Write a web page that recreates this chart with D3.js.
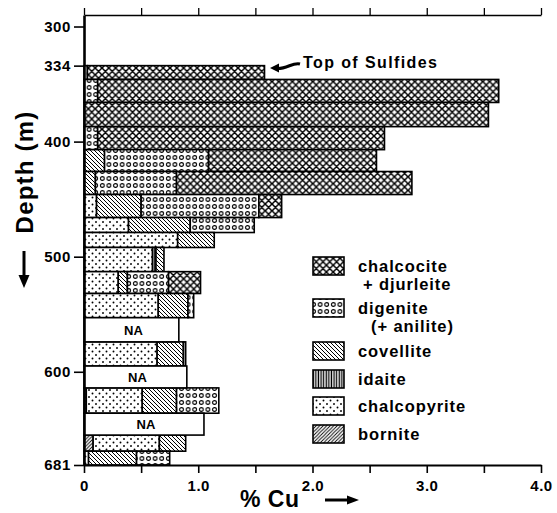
<!DOCTYPE html>
<html><head><meta charset="utf-8">
<script src="https://cdn.jsdelivr.net/npm/d3@7"></script>
<style>
html,body{margin:0;padding:0;background:#fff;}
svg{display:block;font-family:"Liberation Sans",Arial,Helvetica,sans-serif;font-weight:bold;}
</style></head><body>
<svg id="c" width="557" height="513"></svg>
<script>
// ---- data ----
const depthTop    = [334,346,366,387,407,426,446,466,479,492,513,532,553,574,595,614,636,655,669];
const depthBottom = [346,366,387,407,426,446,466,479,492,513,532,553,574,595,614,636,655,669,681];
const bornite      = [0,0,0,0,0,0,0,0,0,0,0,0,0,0,0,0.02,0,0.08,0];
const chalcopyrite = [0,0,0,0,0,0,0.11,0.39,0.82,0.60,0.30,0.65,0,0.64,0,0.49,0,0.58,0.04];
const idaite       = [0,0,0,0,0,0,0,0,0,0.03,0,0,0,0.02,0,0,0,0,0];
const covellite    = [0,0,0,0,0.18,0.10,0.39,0.54,0.32,0.07,0.08,0.26,0,0.23,0,0.30,0,0.23,0.42];
const digenite     = [0.03,0.12,0,0.12,0.91,0.71,1.03,0.56,0,0,0.36,0.05,0,0,0,0.37,0,0,0.29];
const chalcocite   = [1.55,3.51,3.54,2.51,1.47,2.06,0.20,0,0,0,0.28,0,0,0,0,0,0,0,0];
const notAnalyzed  = [0,0,0,0,0,0,0,0,0,0,0,0,0.83,0,0.90,0,1.05,0,0];
const depthTicks = [300,334,400,500,600,681];
const cuTicks = [0,0.5,1,1.5,2,2.5,3,3.5,4];
const cuTickLabels = ["0","","1.0","","2.0","","3.0","","4.0"];
const stackOrder = ["bornite","chalcopyrite","idaite","covellite","digenite","chalcocite"];
const idaiteLastRows = [13];
const legendKeys = ["chalcocite","digenite","covellite","idaite","chalcopyrite","bornite"];
const legendLabels = [["chalcocite","+ djurleite"],["digenite","(+ anilite)"],["covellite"],["idaite"],["chalcopyrite"],["bornite"]];

const series = {bornite, chalcopyrite, idaite, covellite, digenite, chalcocite};

(function(){
// ---- setup ----
const svg = d3.select("#c");
const x = d3.scaleLinear().domain([0,4]).range([84,541]);
const y = d3.scaleLinear().domain([290,681]).range([15,465]);

const defs = svg.append("defs");
function pat(id,w,h,draw){
  const p = defs.append("pattern").attr("id",id).attr("patternUnits","userSpaceOnUse")
    .attr("width",w).attr("height",h);
  p.append("rect").attr("width",w).attr("height",h).attr("fill","#fff");
  draw(p);
}
pat("p-chalcocite",6.8,6.8,p=>p.append("path")
  .attr("d","M0,0L6.8,6.8M6.8,0L0,6.8M-1,5.8L1,7.8M5.8,-1L7.8,1M-1,1L1,-1M5.8,7.8L7.8,5.8")
  .attr("stroke","#000").attr("stroke-width",1.5));
pat("p-digenite",6.6,7,p=>p.append("circle").attr("cx",3.3).attr("cy",3.5).attr("r",1.9)
  .attr("fill","none").attr("stroke","#000").attr("stroke-width",1.1));
pat("p-chalcopyrite",7,7,p=>{
  p.append("circle").attr("cx",1.5).attr("cy",1.5).attr("r",0.95).attr("fill","#000");
  p.append("circle").attr("cx",5).attr("cy",5).attr("r",0.95).attr("fill","#000");
});
pat("p-covellite",4,4,p=>p.append("path").attr("d","M0,0L4,4M-1,3L1,5M3,-1L5,1")
  .attr("stroke","#000").attr("stroke-width",1));
pat("p-bornite",3.5,3.5,p=>p.append("path").attr("d","M0,3.5L3.5,0M-1,1L1,-1M2.5,4.5L4.5,2.5")
  .attr("stroke","#000").attr("stroke-width",0.9));
pat("p-idaite",2.6,10,p=>p.append("rect").attr("x",0.6).attr("y",0).attr("width",1.3).attr("height",10).attr("fill","#000"));

// ---- bars ----
const segs = [];
depthTop.forEach((t,i)=>{
  let order = stackOrder.slice();
  if (idaiteLastRows.includes(i)) order = ["bornite","chalcopyrite","covellite","idaite","digenite","chalcocite"];
  let cum = 0;
  order.forEach(k=>{
    const v = series[k][i];
    if (v>0){ segs.push({k, x0:cum, x1:cum+v, t, b:depthBottom[i]}); cum += v; }
  });
});
svg.append("g").selectAll("rect").data(segs).join("rect")
  .attr("x",d=>x(d.x0)).attr("width",d=>x(d.x1)-x(d.x0))
  .attr("y",d=>y(d.t)).attr("height",d=>y(d.b)-y(d.t))
  .attr("fill",d=>`url(#p-${d.k})`).attr("stroke","#000").attr("stroke-width",1.6);

const na = depthTop.map((t,i)=>({t,b:depthBottom[i],v:notAnalyzed[i]})).filter(d=>d.v>0);
const ng = svg.append("g").selectAll("g").data(na).join("g");
ng.append("rect").attr("x",x(0)).attr("width",d=>x(d.v)-x(0))
  .attr("y",d=>y(d.t)).attr("height",d=>y(d.b)-y(d.t))
  .attr("fill","#fff").attr("stroke","#000").attr("stroke-width",1.6);
ng.append("text").attr("x",d=>(x(0)+x(d.v))/2+2).attr("y",d=>(y(d.t)+y(d.b))/2+5)
  .attr("text-anchor","middle").attr("font-size",13).text("NA");

// ---- axes ----
const ax = svg.append("g");
const topAx = ax.append("g").attr("transform",`translate(0,${y(290)})`)
  .call(d3.axisTop(x).tickValues(cuTicks).tickSize(7).tickSizeOuter(0).tickFormat(""));
topAx.select(".domain").attr("stroke-width",1.6);
topAx.selectAll(".tick line").attr("stroke-width",1.3);
const botAx = ax.append("g").attr("transform",`translate(0,${y(681)})`)
  .call(d3.axisBottom(x).tickValues(cuTicks).tickSize(8).tickSizeOuter(0)
    .tickFormat((d,i)=>cuTickLabels[i]));
botAx.select(".domain").attr("stroke-width",2.2);
botAx.selectAll(".tick line").attr("stroke-width",1.6);
botAx.selectAll(".tick text").attr("font-size",15).attr("font-family","Liberation Sans, Arial, sans-serif")
  .attr("font-weight","bold").attr("fill","#000").attr("dy","1.0em").attr("letter-spacing",0.5);
const leftAx = ax.append("g").attr("transform",`translate(${x(0)},0)`)
  .call(d3.axisLeft(y).tickValues(depthTicks).tickSize(10).tickSizeOuter(0).tickFormat(d3.format("d")));
leftAx.select(".domain").attr("stroke-width",2.6);
leftAx.selectAll(".tick line").attr("stroke-width",1.6);
leftAx.selectAll(".tick text").attr("font-size",15).attr("font-family","Liberation Sans, Arial, sans-serif")
  .attr("font-weight","bold").attr("fill","#000").attr("x",-13).attr("letter-spacing",0.6);

// ---- titles ----
svg.append("text").attr("transform","translate(33,172) rotate(-90)").attr("text-anchor","middle")
  .attr("font-size",24).attr("letter-spacing",1.2).text("Depth (m)");
svg.append("line").attr("x1",24).attr("x2",24).attr("y1",251).attr("y2",278)
  .attr("stroke","#000").attr("stroke-width",3);
svg.append("polygon").attr("points","24,288 18.5,275 29.5,275").attr("fill","#000");

svg.append("text").attr("x",240).attr("y",507).attr("font-size",23).attr("letter-spacing",0.5).text("% Cu");
svg.append("line").attr("x1",325).attr("x2",350).attr("y1",500).attr("y2",500)
  .attr("stroke","#000").attr("stroke-width",3);
svg.append("polygon").attr("points","359,500 347,495.5 347,504.5").attr("fill","#000");

svg.append("text").attr("x",303).attr("y",68).attr("font-size",16).attr("letter-spacing",1.4).text("Top of Sulfides");
svg.append("path").attr("d","M300,64 C293,62 287,69 277,68.5").attr("fill","none")
  .attr("stroke","#000").attr("stroke-width",3);
svg.append("polygon").attr("points","270,68 279,63.5 279,72.5").attr("fill","#000");

// ---- legend ----
const lgY = [257,299,342,370,397,425];
const lg = svg.append("g").selectAll("g").data(legendKeys).join("g");
lg.append("rect").attr("x",313).attr("y",(d,i)=>lgY[i]).attr("width",31).attr("height",18)
  .attr("fill",d=>`url(#p-${d})`).attr("stroke","#000").attr("stroke-width",1.6);
lg.each(function(d,i){
  const g = d3.select(this);
  const L = legendLabels[i];
  g.append("text").attr("x",358).attr("y",lgY[i]+15).attr("font-size",16.5).attr("letter-spacing",0.9).text(L[0]);
  if (L[1]) g.append("text").attr("x",i===0?363:371).attr("y",lgY[i]+33).attr("font-size",16.5)
    .attr("letter-spacing",0.9).text(L[1]);
});
})();
</script>
</body></html>
